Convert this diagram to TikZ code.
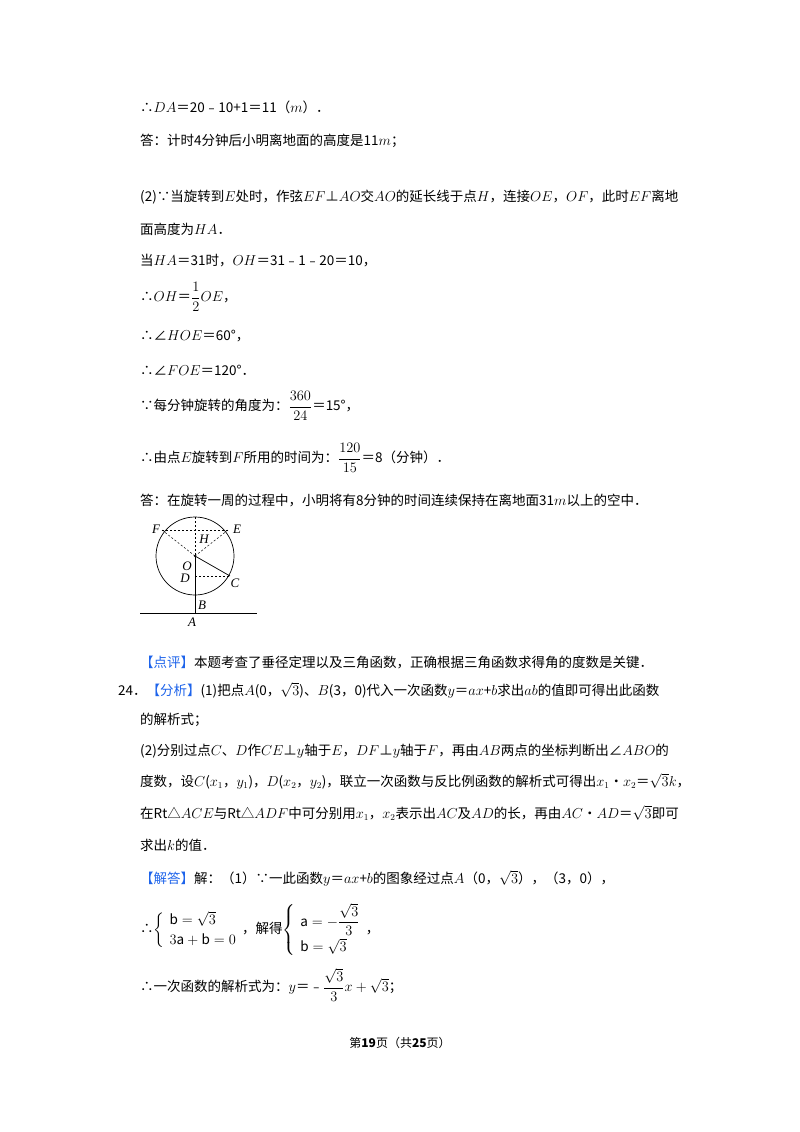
\documentclass[tikz,border=0pt]{standalone}
\usepackage{fontspec}
\usepackage{amsmath}
\setmainfont{Noto Sans CJK SC}
\newfontfamily\latf{Liberation Serif}
\definecolor{hl}{RGB}{30,100,235}
\begin{document}
\begin{tikzpicture}[x=1pt,y=-1pt,
  txt/.style={anchor=west,inner sep=0pt,font=\fontsize{13.5}{16}\selectfont},
  lbl/.style={inner sep=0pt,font=\latf\itshape\fontsize{13}{14}\selectfont},
  dsh/.style={dashed,dash pattern=on 2pt off 2pt,line width=0.5pt}]
\useasboundingbox (0,0) rectangle (800,1132);
\fill[white] (0,0) rectangle (800,1132);
\node[txt] (l1) at (140,107) {∴$DA$＝20﹣10+1＝11（$m$）．};
\node[txt] (l2) at (140,141) {答：计时4分钟后小明离地面的高度是11$m$；};
\node[txt] (l3) at (140,197) {(2)∵当旋转到$E$处时，作弦$EF$⊥$AO$交$AO$的延长线于点$H$，连接$OE$，$OF$，此时$EF$离地};
\node[txt] (l4) at (140,229) {面高度为$HA$．};
\node[txt] (l5) at (140,261) {当$HA$＝31时，$OH$＝31﹣1﹣20＝10，};
\node[txt] (l6) at (140,297) {∴$OH$＝$\dfrac{1}{2}OE$，};
\node[txt] (l7) at (140,336) {∴∠$HOE$＝60°，};
\node[txt] (l8) at (140,370) {∴∠$FOE$＝120°．};
\node[txt] (l9) at (140,406) {∵每分钟旋转的角度为：$\dfrac{360}{24}$＝15°，};
\node[txt] (l10) at (140,458) {∴由点$E$旋转到$F$所用的时间为：$\dfrac{120}{15}$＝8（分钟）．};
\node[txt] (l11) at (140,500) {答：在旋转一周的过程中，小明将有8分钟的时间连续保持在离地面31$m$以上的空中．};
% figure
\coordinate (O) at (195,556);
\coordinate (T) at (195,517);
\coordinate (H) at (195,530);
\coordinate (F) at (162,530);
\coordinate (E) at (228,530);
\coordinate (C) at (230,576);
\coordinate (D) at (195,576);
\coordinate (B) at (195,595);
\coordinate (A) at (195,613);
\coordinate (G1) at (140,613);
\coordinate (G2) at (257,613);
\draw[line width=0.7pt] (O) circle (39);
\draw[dsh] (T) -- (O);
\draw[dsh] (F) -- (E);
\draw[dsh] (O) -- (F);
\draw[dsh] (O) -- (E);
\draw[dsh] (D) -- (C);
\draw[line width=0.7pt] (O) -- (C);
\draw[line width=0.7pt] (O) -- (A);
\draw[line width=1pt] (G1) -- (G2);
\fill (O) circle (1.2);
\node[lbl] (nF) at (156,529) {F};
\node[lbl] (nE) at (237,529) {E};
\node[lbl] (nH) at (204,539) {H};
\node[lbl] (nO) at (187,566) {O};
\node[lbl] (nD) at (185,578) {D};
\node[lbl] (nC) at (235,583) {C};
\node[lbl] (nB) at (202,605) {B};
\node[lbl] (nA) at (192,622) {A};
%
\node[txt] (l12) at (140,662) {{\color{hl}【点评】}本题考查了垂径定理以及三角函数，正确根据三角函数求得角的度数是关键．};
\node[txt] (l13) at (118,690) {24．{\color{hl}【分析】}(1)把点$A$(0，$\sqrt{3}$)、$B$(3，0)代入一次函数$y$＝$ax$+$b$求出$ab$的值即可得出此函数};
\node[txt] (l14) at (140,720) {的解析式；};
\node[txt] (l15) at (140,751) {(2)分别过点$C$、$D$作$CE$⊥$y$轴于$E$，$DF$⊥$y$轴于$F$，再由$AB$两点的坐标判断出∠$ABO$的};
\node[txt] (l16) at (140,781) {度数，设$C$($x_1$，$y_1$)，$D$($x_2$，$y_2$)，联立一次函数与反比例函数的解析式可得出$x_1$•$x_2$＝$\sqrt{3}k$，};
\node[txt] (l17) at (140,813) {在Rt△$ACE$与Rt△$ADF$中可分别用$x_1$，$x_2$表示出$AC$及$AD$的长，再由$AC$•$AD$＝$\sqrt{3}$即可};
\node[txt] (l18) at (140,845) {求出$k$的值．};
\node[txt] (l19) at (140,878) {{\color{hl}【解答】}解：（1）∵一此函数$y$＝$ax$+$b$的图象经过点$A$（0，$\sqrt{3}$），（3，0），};
\node[txt] (l20) at (140,930) {∴$\left\{\begin{array}{l}\mathrm{b}=\sqrt{3}\\[4pt]3\mathrm{a}+\mathrm{b}=0\end{array}\right.$，解得$\left\{\begin{array}{l}\mathrm{a}=-\dfrac{\sqrt{3}}{3}\\[8pt]\mathrm{b}=\sqrt{3}\end{array}\right.$，};
\node[txt] (l21) at (140,985) {∴一次函数的解析式为：$y$＝﹣$\dfrac{\sqrt{3}}{3}x+\sqrt{3}$；};
\node[txt,anchor=center,font=\fontsize{12}{14}\selectfont] (pg) at (400,1043) {第\textbf{19}页（共\textbf{25}页）};
\end{tikzpicture}
\end{document}
